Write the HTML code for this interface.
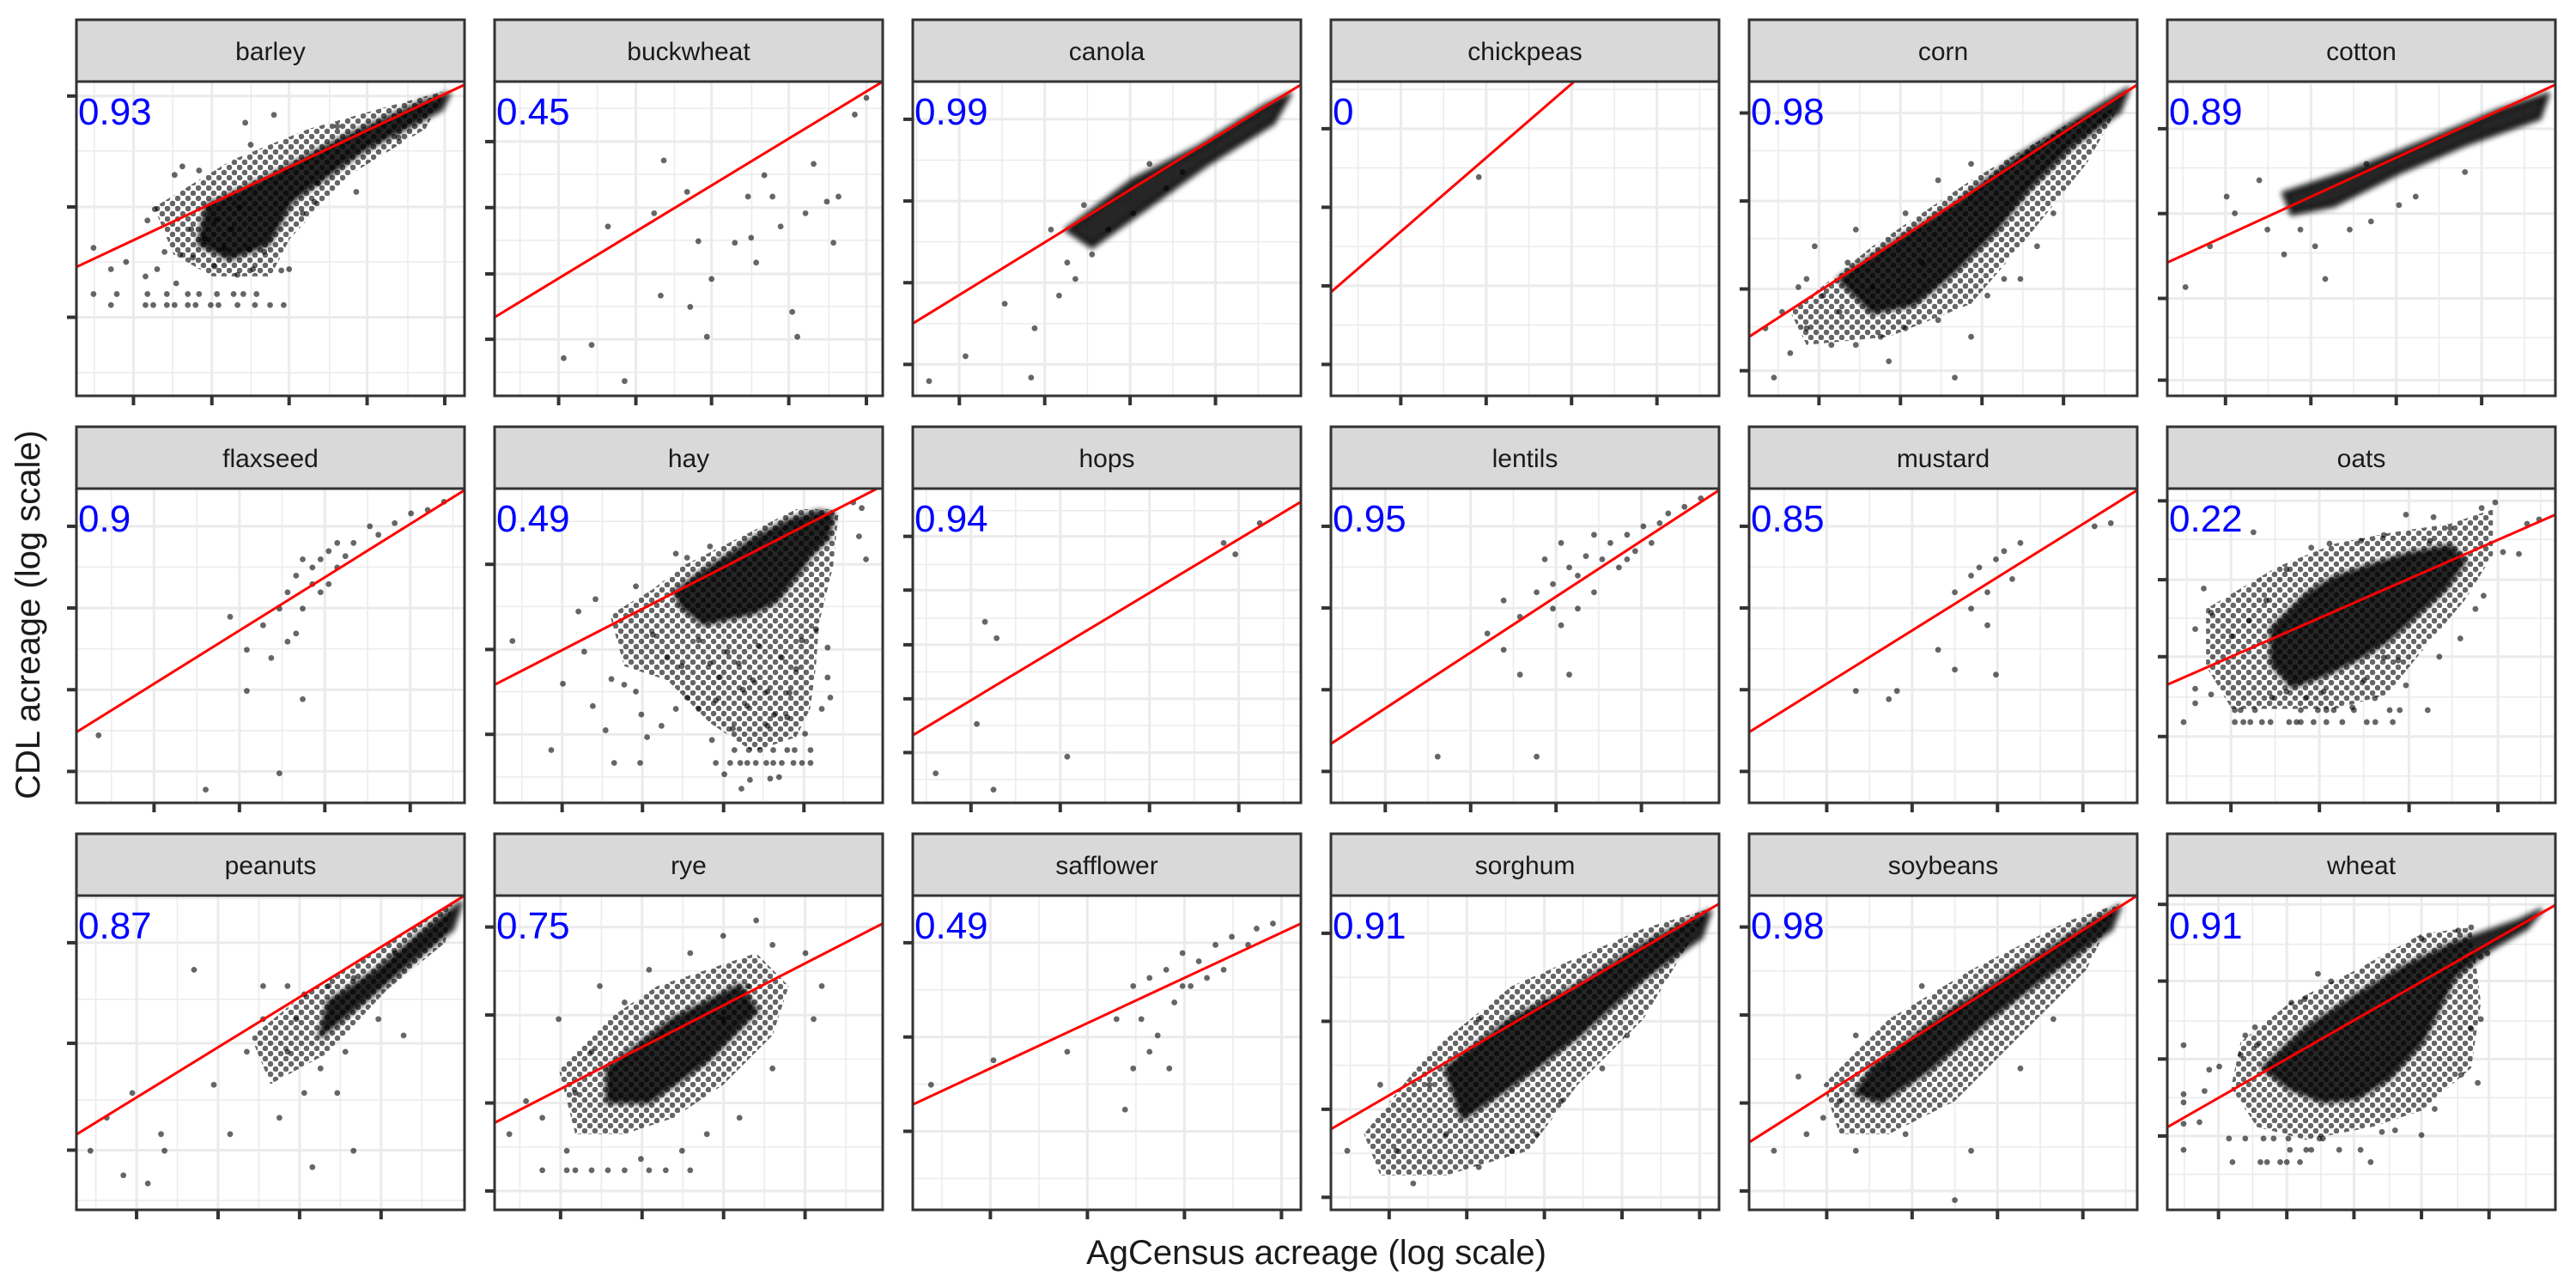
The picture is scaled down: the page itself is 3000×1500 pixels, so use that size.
<!DOCTYPE html>
<html><head><meta charset="utf-8"><title>CDL vs AgCensus acreage</title>
<style>
html,body{margin:0;padding:0;background:#fff;}
svg{display:block;}
text{font-family:"Liberation Sans",Arial,sans-serif;}
</style></head>
<body>
<svg id="chart" width="3000" height="1500" viewBox="0 0 3000 1500" xmlns="http://www.w3.org/2000/svg">
<defs>
<pattern id="dots" width="12" height="12" patternUnits="userSpaceOnUse">
<circle cx="3" cy="3" r="3.3" fill="#000" fill-opacity="0.6"/>
<circle cx="9" cy="9" r="3.3" fill="#000" fill-opacity="0.6"/>
</pattern>
<filter id="soft" x="-10%" y="-10%" width="120%" height="120%"><feGaussianBlur stdDeviation="3"/></filter>
</defs>
<rect x="0" y="0" width="3000" height="1500" fill="#fff"/>
<text x="1533" y="1472" text-anchor="middle" font-size="40" fill="#1a1a1a">AgCensus acreage (log scale)</text>
<text x="0" y="0" transform="translate(46,716) rotate(-90)" text-anchor="middle" font-size="40" fill="#1a1a1a">CDL acreage (log scale)</text>
</svg>
<script>
// ---- data (values in per-panel log-scale units, 0..100 of each free axis) ----
const crops = ["barley","buckwheat","canola","chickpeas","corn","cotton","flaxseed","hay","hops","lentils","mustard","oats","peanuts","rye","safflower","sorghum","soybeans","wheat"];
const rLabels = ["0.93","0.45","0.99","0","0.98","0.89","0.9","0.49","0.94","0.95","0.85","0.22","0.87","0.75","0.49","0.91","0.98","0.91"];
const fitStart = [41,25,23,33,18.8,42.4,22.5,37.6,21.5,18.8,22.5,37.6,24,27.7,33.5,25.7,21.5,26.3];
const fitEnd = [99,100,99,139.9,99,99,99.5,100.9,95.8,99.5,99.5,91.7,100,91.1,91.1,97.4,100,97];
const xTickVals = [[14.7,34.9,54.8,74.9,94.9],[16.5,36.4,55.9,75.8,95.8],[12,34,56,78],[18,40,62,84],[18,39,60,81],[15,37,59,81],
 [20,42,64,86],[17.4,38.1,59,79.7],[15,38,61,84],[14,36,58,80],[20,42,64,86],[16.4,39.2,62.3,85.2],
 [15.5,36.5,57.5,78.5],[17,38,59,80],[20,45,70,95],[15,35,55,75,95],[20,42,64,86],[13.2,30.8,48.1,65.5,82.9]];
const yTickVals = [[95.4,60.1,25],[80.9,59.9,38.8,18],[88,62,36,10],[85,60,35,10],[90,62,34,8],[85,58,31,5],
 [88,62,36,10],[75.9,48.8,21.8],[84.8,67.7,50.3,33.1,16],[88,62,36,10],[88,62,36,10],[96.1,71,46.5,21.1],
 [85,53,19],[90,62,34,6],[85,55,25],[88,60,32,4],[90,62,34,6],[97.2,72.8,48,23.5]];
const pointSets = [
"8.9,28.9 17.8,28.9 19.8,28.9 23.3,28.9 25.3,28.9 28.7,28.9 30.7,28.9 34.6,28.9 36.6,28.9 41.5,28.9 46,28.9 49.9,28.9 53.4,28.9 4.4,32.4 10.4,32.4 18.3,32.4 23.3,32.4 28.7,32.4 31.6,32.4 36.2,32.4 40.5,32.4 43,32.4 46.4,32.4 4.4,47.1 8.9,40.3 12.8,42.6 18.3,55.8 20.2,59.4 25.3,70.3 27.3,73 31.6,71.7 43.5,86.9 50.9,89.4 44.9,79.9 72.1,64.9 61.3,61.7 58.3,58.1 17.8,38 20.8,40.3 25.7,35.8 26.7,44.9 35.6,41.2 41.5,38.5 45.5,40.3 52.8,39.9 54.8,40.3 48.4,45.8 44.5,46.7 22.7,45.8 29.6,53 62.3,67.6 67.2,85.8 83,82.2 40,53 33,50 38,47 30,44 36,56 42,60",
"17.8,12 25,16.2 33.5,4.7 42.8,31.9 29.2,53.9 43.6,74.9 50.4,28.3 54.7,18.8 55.9,37.2 65.3,63.4 66.1,50.3 67.4,42.4 71.6,63.4 73.7,53.9 76.7,26.7 80.1,58.1 82.2,73.8 85.6,61.8 87.3,48.7 88.6,63.4 92.8,89.5 95.8,94.8 52.5,49.2 61.9,48.7 69.5,70.2 41.1,58.1 78,18.8 49.6,64.9",
"4.2,4.7 13.6,12.6 30.5,5.8 23.7,29.3 31.4,21.5 39.8,42.4 41.9,37.2 46.2,45 35.6,52.9 44.1,60.7 37.7,31.9 50.4,52.9 56.8,58.1 65.3,66 61,73.8 69.5,71.2",
"38.1,69.6",
"6.4,5.8 10.6,13.6 14.8,21.5 8.5,26.7 19.1,31.9 14.8,37.2 23.3,26.7 27.5,16.2 36,11 40.3,21.5 48.7,24.1 53,5.8 57.2,18.8 61.4,31.9 69.9,37.2 74.2,47.6 78.4,58.1 44.5,42.4 31.8,34.6 25.4,42.4 16.9,47.6 12.7,34.6 4.2,21.5 27.5,52.9 40.3,58.1 48.7,68.6 57.2,73.8 65.7,37.2 21.2,16.2 33.9,18.8",
"17.4,58.1 11,47.6 25.8,52.9 34.3,52.9 38.1,47.6 40.7,37.2 47,52.9 52.5,55.5 59.7,60.7 23.7,68.6 51.3,73.8 64,63.4 76.7,71.2 30.1,45 15.3,63.4 4.7,34.6",
"5.7,21.5 33.3,4.2 43.9,35.6 52.3,9.4 58.3,33 43.9,48.7 48.1,56.5 52.3,61.8 54.4,67 56.6,72.3 60.8,74.9 62.9,77.5 65,80.1 67.2,74.9 69.3,78.5 71.4,82.7 75.6,88 77.8,85.3 82,89 86.2,92.1 90.5,93.2 94.7,95.8 56.6,53.9 50.2,46.1 58.3,61.8 62.9,67 65,69.6 39.6,59.2 54.4,51.3 60.8,69.6 67.2,82.7 58.3,77.5",
"57,12.7 60.7,12.7 63.3,12.7 65.1,12.7 67.3,12.7 70,12.7 71.8,12.7 74,12.7 77,12.7 79.2,12.7 81.4,12.7 61.8,16.8 65.5,16.8 68.4,16.8 71.8,16.8 75.4,16.8 77.3,16.8 81.4,16.8 4.6,51.5 14.6,16.8 17.6,37.9 25.3,30.8 28.6,23.1 30.8,12.7 37.5,12.7 21.6,60.9 26,64.8 23.1,48.1 30.1,39.4 33.4,37.6 36.4,35.4 37.8,28.1 39.3,20.9 43,24.5 46.7,29.9 49.6,33.5 52.6,29.9 57,32.6 59.2,9.1 63.6,4.5 65.8,7.3 71,7.7 73.3,8.2 85.8,39.9 86.5,33.5 84.3,29.9 85.8,49.4 82.8,55.3 93.9,84.8 95.7,77.5 94.6,93.8 92.4,95.6 46.7,79.3 49.6,78 55.5,81.6 36.4,68.9 40.8,53.5 44.5,46.2 48.2,43.5 62.9,44.4 66.6,39 70.3,35.4 74,46.2 77.7,42.6 70.3,24.5 75.4,27.2 61.4,23.6 65.1,30.8 55.5,44.4 79.1,51.7 52.6,51.7 58,40 68,50 72,28 64,36 76,35 80,22 56,20 60,48",
"5.9,9.4 18.6,57.6 21.6,52.4 16.5,25.1 20.8,4.2 39.8,14.7 83.1,79.1 89.4,89 80.1,82.7",
"27.5,14.7 40.3,53.9 44.5,48.7 48.7,59.2 53,14.7 53,67 57.2,69.6 59.3,56.5 61.4,74.9 63.6,72.3 65.7,78.5 67.8,67 69.9,77.5 72,82.7 74.2,74.9 76.3,85.3 78.4,80.1 80.5,88 84.7,89 86.9,92.1 91.1,94.2 95.3,96.9 57.2,61.8 61.4,40.8 48.7,40.8 63.6,61.8 55.1,77.5 59.3,82.7 67.8,85.3 76.3,77.5 82.6,82.7 44.5,64.4",
"27.5,35.6 36,33 38.1,35.6 48.7,48.7 53,67 57.2,72.3 59.3,74.9 61.4,67 63.6,77.5 65.7,80.1 67.8,71.2 69.9,82.7 61.4,56.5 53,42.4 89,88 93.2,89 63.6,40.8 57.2,61.8",
"4.2,25.7 17.4,25.7 19.6,25.7 21.4,25.7 24.4,25.7 26.6,25.7 31.4,25.7 33.3,25.7 34.4,25.7 37.7,25.7 41,25.7 45.1,25.7 51.4,25.7 53.6,25.7 58.1,25.7 17.4,29.5 18.9,29.5 22.6,29.5 34.4,29.5 38.8,29.5 41,29.5 42.9,29.5 48.1,29.5 57.3,29.5 59.9,29.5 67.1,29.5 9.4,68.2 7.2,55.3 7.2,31.7 7.2,36.3 11.3,60.5 11.3,34.5 22.2,86.1 61.5,91.7 68.6,90.9 81,93.8 84.5,95.6 86.5,79.8 90.6,79.2 92.7,88.8 95.8,90.2 75.5,52.3 70.1,46.5 81.5,65.9 79.4,61.7 61.5,37.4 55.8,46.2 59.5,45.3 50.7,39 53.5,33.3 47.7,30.4 27,33.5 30.7,35.4 35.9,33.5 40.3,35.4 16.6,53 21.1,58 25.5,64.4 30.7,74.3 37.1,81.2 41.8,82.5 49.9,83.4 55.8,85.2 67.7,83.4 72.9,87.5",
"3.6,18.8 7.8,29.3 18.4,8.4 22.7,18.8 35.4,39.8 43.9,50.3 48.1,60.7 54.4,50.3 56.6,60.7 58.7,37.2 62.9,45 67.2,37.2 69.3,50.3 71.4,18.8 77.8,60.7 52.3,29.3 39.6,24.1 30.3,76.4 58.7,68.6 65,71.2 54.4,71.2 48.1,71.2 71.4,73.8 82.1,81.7 84.3,55.5 60.8,13.6 12.1,11 14.4,37.2 21.8,24.1",
"12.3,12.6 18.6,12.6 20.8,12.6 25,12.6 29.2,12.6 33.5,12.6 39.8,12.6 44.1,12.6 50.4,12.6 3.8,24.1 8.1,34.6 12.3,29.3 18.6,18.8 25,50.3 33.5,66 58.9,87.2 67.4,92.1 71.6,84.3 80.1,81.7 84.3,71.2 82.2,60.7 71.6,45 63.1,29.3 54.7,24.1 48.3,18.8 37.7,16.2 20.8,37.2 50.4,81.7 39.8,76.4 58.9,60.7 65.3,71.2 27.1,71.2 16.5,60.7",
"4.7,39.8 20.8,47.6 39.8,50.3 52.5,60.7 56.8,71.2 61,73.8 65.3,76.4 67.4,66 69.5,81.7 71.6,71.2 73.7,79.1 75.8,73.8 78,84.3 80.1,76.4 82.2,86.9 86.4,84.3 88.6,89.5 92.8,91.1 54.7,31.9 56.8,45 61,50.3 63.1,55.5 66.1,45 58.9,60.7 69.5,71.2",
"4.2,18.8 12.7,39.8 16.9,18.8 21.2,8.4 29.7,24.1 38.1,13.6 46.6,18.8 53,24.1 59.3,34.6 69.9,45 76.3,55.5 38.1,60.7 55.1,66 25.4,39.8",
"6.4,18.8 14.8,24.1 19.1,29.3 23.3,34.6 27.5,18.8 40.3,24.1 53,3.1 36,45 57.2,18.8 69.9,45 78.4,60.7 44.5,71.2 27.5,55.5 12.7,42.4",
"16.8,15.2 24,15.2 25.7,15.2 29.1,15.2 30.8,15.2 34.2,15.2 52.4,15.2 4.2,19.1 31.6,19.1 35.8,19.1 37.1,19.1 44.3,19.1 49.8,19.1 15.9,22.7 20.1,22.7 24.8,22.7 27.4,22.7 31.2,22.7 39.2,22.7 40.1,22.7 4.2,52.4 4.2,36.8 4.2,34.2 4.2,27.4 8.3,27.9 10.8,44.6 13.4,45.6 9.6,37.8 20.1,55.5 22.6,58.1 18.9,49.3 23.1,52.4 32,65.9 35.4,67 38.8,75.1 42.2,72.7 65.5,86.3 75,88.9 78.3,89.9 80.8,80.5 80.8,60.7 80,40.4 78.3,57.6 75.7,43 65.5,23.8 58.7,25.3 55.3,24.8 68.9,32.1 82.5,81.6"
];
const densCores = [
"33.6,60.3 49.4,69.4 69.2,82.2 88.9,93.1 95.8,95.8 93.9,91.3 74.1,78.5 55.3,62.1 49.4,48.5 39.5,43.9 31.6,48.5",
"",
"39.8,52.9 56.8,68.6 73.7,79.1 90.7,92.1 97,95.8 92.8,86.9 75.8,73.8 61,60.7 46.2,47.6",
"",
"23.3,37.2 36,47.6 53,60.7 69.9,76.4 86.9,89.5 97.5,97.4 95.3,90.6 82.6,79.1 72,66 63.6,52.9 53,39.8 42.4,29.3 31.8,26.7",
"30.1,64.4 47,71.2 68.2,81.7 85.2,90.6 97.9,95.8 95.8,88.5 76.7,80.1 59.7,71.2 42.8,60.7 32.2,58.1",
"",
"46.7,67.1 52.6,72.5 60.7,78.9 67.3,84.3 76.2,89.8 83.6,92.5 87.2,91.6 85.8,84.3 81.3,78.9 77.7,72.5 72.5,64.4 66.6,60.7 60,58.9 54.1,57.1 48.2,62.6",
"", "", "",
"27,55.3 35.9,66.2 43.3,71.6 52.1,75.2 61.8,78.9 72.9,81.6 76.6,77.1 71.4,68 64,59.8 56.6,51.7 49.2,46.2 40.3,40.8 32.2,37.2 27,44.4",
"65,66 77.8,76.4 90.5,89.5 98.9,97.4 96.8,89.5 86.2,79.1 73.5,66 62.9,55.5",
"29.2,45 46.2,60.7 63.1,71.2 67.4,63.4 54.7,47.6 39.8,34.6 29.2,34.6",
"",
"29.7,45 46.6,60.7 63.6,71.2 80.5,84.3 97.5,94.8 95.3,86.9 80.5,73.8 63.6,55.5 46.6,39.8 33.9,29.3",
"31.8,45 48.7,60.7 65.7,73.8 82.6,86.9 95.3,96.3 93.2,89.5 78.4,76.4 61.4,60.7 46.6,45 33.9,34.6 27.5,37.2",
"24.8,45.1 35.8,57.6 48.6,68 61.3,77.4 74,84.7 90.9,92 96,95.1 92.6,89.9 82.5,82.6 74,74.3 69.7,63.9 65.5,53.4 57,42 48.6,35.7 40.1,34.7 31.6,38.9"
];
const densHalos = [
"20,60 40,75 60,85 80,92 95,97 90,85 70,70 55,50 50,38 35,38 25,45",
"", "", "",
"10.6,26.7 31.8,47.6 57.2,68.6 82.6,86.9 95.3,92.1 86.9,73.8 69.9,47.6 57.2,29.3 36,18.8 14.8,16.2",
"", "",
"29.7,59.8 40.8,68 48.2,75.2 62.9,84.3 77.7,93.4 88.7,93.4 87.2,75.2 83.6,57.1 82.8,43.5 81.3,29.9 77.7,20.9 66.6,16.3 55.5,25.4 44.5,39 33.4,43.5",
"", "", "",
"10,61.7 28.5,75.2 43.3,82.5 58.1,86.1 72.9,88.8 83.9,93.4 83.9,78.9 76.6,64.4 65.5,48.1 56.6,34.5 43.3,29.9 28.5,29.9 16.6,29.9 10,43.5",
"45,55 60,70 80,85 97,98 95,85 80,70 65,50 50,40",
"16.5,45 29.2,60.7 41.9,71.2 54.7,76.4 67.4,81.7 75.8,71.2 71.6,55.5 58.9,39.8 46.2,29.3 33.5,24.1 20.8,24.1",
"",
"8.5,24.1 25.4,50.3 46.6,71.2 80.5,89.5 97.5,95.8 80.5,60.7 63.6,39.8 50.8,18.8 29.7,11 12.7,11",
"19.1,39.8 36,60.7 57.2,76.4 82.6,92.1 95.3,97.4 86.9,76.4 69.9,55.5 53,34.6 36,24.1 23.3,24.1",
"18.9,53.4 31.6,65.9 48.6,76.3 65.5,87.8 78.3,89.9 80.8,65.9 78.3,45.1 65.5,31.6 52.8,26.4 35.8,22.3 23.1,26.4 16.4,38.9"
];

// ---- layout ----
const NS = "http://www.w3.org/2000/svg";
const svg = document.getElementById("chart");
const PW = 452, PH = 366, STRIP = 72;
function mk(tag, attrs, parent){ const e = document.createElementNS(NS, tag); for (const k in attrs) e.setAttribute(k, attrs[k]); (parent||svg).appendChild(e); return e; }
function parsePairs(s){ return s.trim() ? s.trim().split(/\s+/).map(p => p.split(",").map(Number)) : []; }

crops.forEach((crop, i) => {
  const col = i % 6, row = Math.floor(i / 6);
  const L = 89 + col * 487, stripTop = 23 + row * 474, T = stripTop + STRIP, B = T + PH;
  const xs = v => L + v / 100 * PW;
  const ys = v => B - v / 100 * PH;

  const g = mk("g", {});
  
  

  const clipId = "clip" + i;
  const cp = mk("clipPath", {id: clipId}, g);
  mk("rect", {x: L, y: T, width: PW, height: PH}, cp);

  const bg = mk("rect", {x: L, y: T, width: PW, height: PH, fill: "#fff"}, g);
  
  

  const grid = mk("g", {"clip-path": "url(#" + clipId + ")"}, g);
  
  
  function gridSet(ticks, horiz){
    const step = ticks.length > 1 ? Math.abs(ticks[1] - ticks[0]) : 25;
    const minors = [];
    const lo = Math.min(...ticks);
    for (let v = lo - step / 2; v > -step; v -= step) minors.push(v);
    for (let v = lo + step / 2; v < 100 + step; v += step) minors.push(v);
    minors.forEach(v => {
      const ln = horiz ? mk("line", {x1: L, x2: L + PW, y1: ys(v), y2: ys(v), stroke: "#ebebeb", "stroke-width": 1.5}, grid)
                       : mk("line", {x1: xs(v), x2: xs(v), y1: T, y2: B, stroke: "#ebebeb", "stroke-width": 1.5}, grid);
      
      
    });
    ticks.forEach(v => {
      const ln = horiz ? mk("line", {x1: L, x2: L + PW, y1: ys(v), y2: ys(v), stroke: "#ebebeb", "stroke-width": 3}, grid)
                       : mk("line", {x1: xs(v), x2: xs(v), y1: T, y2: B, stroke: "#ebebeb", "stroke-width": 3}, grid);
      
      
    });
  }
  gridSet(xTickVals[i], false);
  gridSet(yTickVals[i], true);

  const marks = mk("g", {"clip-path": "url(#" + clipId + ")"}, g);
  
  

  const halo = parsePairs(densHalos[i]);
  if (halo.length) {
    const p = mk("polygon", {points: halo.map(q => xs(q[0]) + "," + ys(q[1])).join(" "), fill: "url(#dots)", stroke: "none"}, marks);
    
    
  }
  const core = parsePairs(densCores[i]);
  if (core.length) {
    const p = mk("polygon", {points: core.map(q => xs(q[0]) + "," + ys(q[1])).join(" "), fill: "#000", "fill-opacity": 0.85, stroke: "#000", "stroke-opacity": 0.6, "stroke-width": 8, "stroke-linejoin": "round", filter: "url(#soft)"}, marks);
    
    
  }
  parsePairs(pointSets[i]).forEach(q => {
    const c = mk("circle", {cx: xs(q[0]), cy: ys(q[1]), r: 3.4, fill: "#000", "fill-opacity": 0.6}, marks);
    
    
  });

  const fit = mk("line", {x1: xs(0), y1: ys(fitStart[i]), x2: xs(100), y2: ys(fitEnd[i]), stroke: "#ff0000", "stroke-width": 3, "clip-path": "url(#" + clipId + ")"}, g);
  
  

  const rt = mk("text", {x: L + 2, y: T + 50, "font-size": 44, fill: "#0000ff"}, g);
  rt.textContent = rLabels[i];
  
  

  const border = mk("rect", {x: L, y: T, width: PW, height: PH, fill: "none", stroke: "#333", "stroke-width": 3}, g);
  
  

  xTickVals[i].forEach(v => {
    const t = mk("line", {x1: xs(v), x2: xs(v), y1: B, y2: B + 11, stroke: "#333", "stroke-width": 4}, g);
    
    
  });
  yTickVals[i].forEach(v => {
    const t = mk("line", {x1: L - 11, x2: L, y1: ys(v), y2: ys(v), stroke: "#333", "stroke-width": 4}, g);
    
    
  });

  const strip = mk("rect", {x: L, y: stripTop, width: PW, height: STRIP, fill: "#d9d9d9", stroke: "#333", "stroke-width": 3}, g);
  
  
  const st = mk("text", {x: L + PW / 2, y: stripTop + 47, "text-anchor": "middle", "font-size": 30, fill: "#1a1a1a"}, g);
  st.textContent = crop;
  
  
});
</script>
</body></html>
